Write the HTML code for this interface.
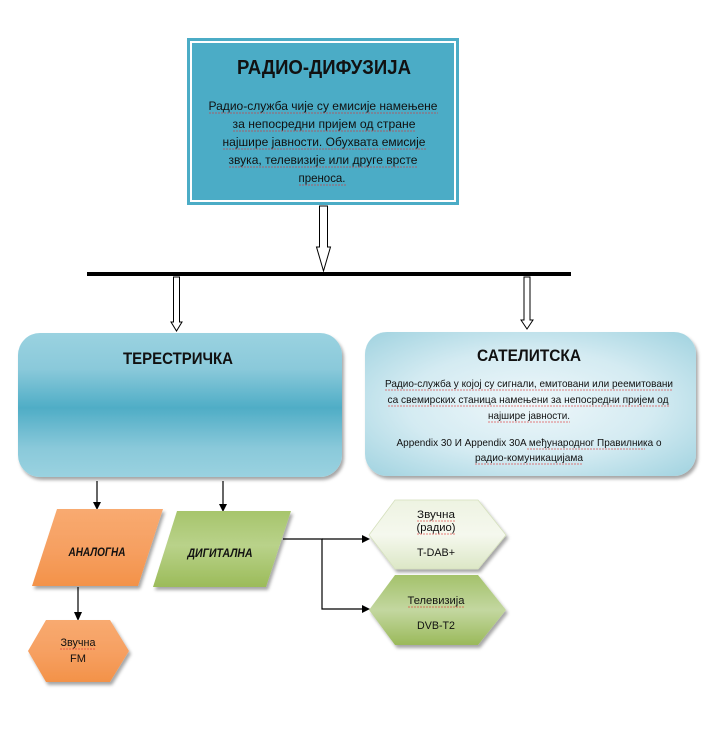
<!DOCTYPE html>
<html><head><meta charset="utf-8"><style>
html,body{margin:0;padding:0;background:#fff;}
svg{display:block;}
text{font-family:"Liberation Sans","DejaVu Sans",sans-serif;fill:#111;}
</style></head><body>
<svg width="708" height="737" viewBox="0 0 708 737" xmlns="http://www.w3.org/2000/svg">
<defs>
<filter id="sh" x="-10%" y="-10%" width="125%" height="130%">
<feDropShadow dx="2" dy="3" stdDeviation="1.5" flood-color="#000" flood-opacity="0.35"/>
</filter>
<linearGradient id="gTer" x1="0" y1="0" x2="0" y2="1">
<stop offset="0" stop-color="#9ad2e0"/>
<stop offset="0.25" stop-color="#8ac9da"/>
<stop offset="0.52" stop-color="#4fadc6"/>
<stop offset="0.8" stop-color="#8ac9da"/>
<stop offset="1" stop-color="#9ad2e0"/>
</linearGradient>
<radialGradient id="gSat" cx="0.5" cy="0.5" r="0.75">
<stop offset="0" stop-color="#eef7fa"/>
<stop offset="0.5" stop-color="#d4ebf2"/>
<stop offset="1" stop-color="#99cfdd"/>
</radialGradient>
<linearGradient id="gOr" x1="0" y1="0" x2="0" y2="1">
<stop offset="0" stop-color="#f8aa70"/>
<stop offset="0.5" stop-color="#f6a062"/>
<stop offset="1" stop-color="#f39249"/>
</linearGradient>
<linearGradient id="gGr" x1="0" y1="0" x2="0" y2="1">
<stop offset="0" stop-color="#a7c56c"/>
<stop offset="0.45" stop-color="#b9d28a"/>
<stop offset="1" stop-color="#9bbb59"/>
</linearGradient>
<linearGradient id="gLt" x1="0" y1="0" x2="0" y2="1">
<stop offset="0" stop-color="#eef3e2"/>
<stop offset="0.5" stop-color="#f5f8ee"/>
<stop offset="1" stop-color="#dce7c6"/>
</linearGradient>
<linearGradient id="gTv" x1="0" y1="0" x2="0" y2="1">
<stop offset="0" stop-color="#a4c26b"/>
<stop offset="0.5" stop-color="#c3d7a0"/>
<stop offset="1" stop-color="#9ab95a"/>
</linearGradient>
</defs>

<!-- Top box -->
<rect x="187" y="38" width="272" height="167" fill="#4bacc6"/>
<rect x="191" y="42" width="264" height="159" fill="none" stroke="#fff" stroke-width="2"/>
<text x="324" y="74" font-size="20" font-weight="bold" text-anchor="middle" textLength="174" lengthAdjust="spacingAndGlyphs">РАДИО-ДИФУЗИЈА</text>
<g font-size="12" text-anchor="middle">
<text x="323" y="110" textLength="229" lengthAdjust="spacingAndGlyphs">Радио-служба чије су емисије намењене</text>
<text x="324" y="128" textLength="183" lengthAdjust="spacingAndGlyphs">за непосредни пријем од стране</text>
<text x="324" y="146" textLength="203" lengthAdjust="spacingAndGlyphs">најшире јавности. Обухвата емисије</text>
<text x="323" y="164" textLength="189" lengthAdjust="spacingAndGlyphs">звука, телевизије или друге врсте</text>
<text x="322" y="182" textLength="47" lengthAdjust="spacingAndGlyphs">преноса.</text>
</g>

<!-- Hollow arrows -->
<polygon points="319.5,206 327.5,206 327.5,247 330.5,247 323.5,271 316.5,247 319.5,247" fill="#fff" stroke="#000" stroke-width="1"/>
<line x1="87" y1="274" x2="571" y2="274" stroke="#000" stroke-width="4"/>
<polygon points="173.5,277 179.5,277 179.5,322 182,322 176.5,331 171,322 173.5,322" fill="#fff" stroke="#000" stroke-width="1"/>
<polygon points="524,277 530,277 530,320 533,320 527,329 521,320 524,320" fill="#fff" stroke="#000" stroke-width="1"/>

<!-- Terrestrial -->
<rect x="18" y="333" width="324" height="144" rx="22" ry="22" fill="url(#gTer)" filter="url(#sh)"/>
<text x="178" y="364" font-size="17" font-weight="bold" text-anchor="middle" textLength="110" lengthAdjust="spacingAndGlyphs">ТЕРЕСТРИЧКА</text>

<!-- Satellite -->
<rect x="365" y="332" width="331" height="144" rx="22" ry="22" fill="url(#gSat)" filter="url(#sh)"/>
<text x="529" y="361" font-size="17" font-weight="bold" text-anchor="middle" textLength="104" lengthAdjust="spacingAndGlyphs">САТЕЛИТСКА</text>
<g font-size="10.5" text-anchor="middle">
<text x="529" y="387" textLength="288" lengthAdjust="spacingAndGlyphs">Радио-служба у којој су сигнали, емитовани или реемитовани</text>
<text x="528" y="403" textLength="281" lengthAdjust="spacingAndGlyphs">са свемирских станица  намењени за непосредни пријем од</text>
<text x="529" y="419" textLength="82" lengthAdjust="spacingAndGlyphs">најшире јавности.</text>
<text x="529" y="446" textLength="265" lengthAdjust="spacingAndGlyphs">Appendix 30 И Appendix 30A међународног Правилника о</text>
<text x="529" y="461" textLength="108" lengthAdjust="spacingAndGlyphs">радио-комуникацијама</text>
</g>

<!-- thin arrows from terrestrial -->
<g stroke="#000" stroke-width="1.2">
<line x1="97" y1="481" x2="97" y2="503"/>
<line x1="223" y1="481" x2="223" y2="505"/>
<line x1="78" y1="587" x2="78" y2="614"/>
<polyline points="283,539 322,539 322,609 364,609" fill="none"/>
<line x1="322" y1="539" x2="364" y2="539"/>
</g>
<g fill="#000">
<polygon points="93,502 101,502 97,510"/>
<polygon points="219,504 227,504 223,512"/>
<polygon points="74,612 82,612 78,621"/>
<polygon points="362,535 362,543 370,539"/>
<polygon points="362,605 362,613 370,609"/>
</g>

<!-- Analog -->
<polygon points="57,509 163,509 138,586 32,586" fill="url(#gOr)" filter="url(#sh)"/>
<text x="97" y="556" font-size="11.5" font-weight="bold" font-style="italic" text-anchor="middle" textLength="57" lengthAdjust="spacingAndGlyphs">АНАЛОГНА</text>

<!-- Digital -->
<polygon points="177,511 291,511 266,587 153,587" fill="url(#gGr)" filter="url(#sh)"/>
<text x="220" y="557" font-size="11.5" font-weight="bold" font-style="italic" text-anchor="middle" textLength="65" lengthAdjust="spacingAndGlyphs">ДИГИТАЛНА</text>

<!-- FM hexagon -->
<polygon points="46,620 110,620 129,651 110,682 46,682 28,651" fill="url(#gOr)" filter="url(#sh)"/>
<text x="78" y="646" font-size="11" text-anchor="middle" textLength="35" lengthAdjust="spacingAndGlyphs">Звучна</text>
<text x="78" y="662" font-size="11" text-anchor="middle" textLength="16" lengthAdjust="spacingAndGlyphs">FM</text>

<!-- T-DAB hexagon -->
<polygon points="395,500 478,500 506,535 478,569 395,569 369,535" fill="url(#gLt)" stroke="#d5e0bd" stroke-width="0.8" filter="url(#sh)"/>
<text x="436" y="518" font-size="11" text-anchor="middle" textLength="38" lengthAdjust="spacingAndGlyphs">Звучна</text>
<text x="436" y="531" font-size="11" text-anchor="middle" textLength="39" lengthAdjust="spacingAndGlyphs">(радио)</text>
<text x="436" y="556" font-size="11" text-anchor="middle" textLength="38" lengthAdjust="spacingAndGlyphs">T-DAB+</text>

<!-- TV hexagon -->
<polygon points="395,575 478,575 506,610 478,645 395,645 369,610" fill="url(#gTv)" filter="url(#sh)"/>
<text x="436" y="604" font-size="11" text-anchor="middle" textLength="57" lengthAdjust="spacingAndGlyphs">Телевизија</text>
<text x="436" y="629" font-size="11" text-anchor="middle" textLength="38" lengthAdjust="spacingAndGlyphs">DVB-T2</text>

<!-- spell-check squiggles -->
<g stroke="#e03030" stroke-width="0.8" fill="none" opacity="0.8" stroke-dasharray="2,1">
<line x1="209" y1="113" x2="438" y2="113"/>
<line x1="233" y1="131" x2="416" y2="131"/>
<line x1="223" y1="149" x2="426" y2="149"/>
<line x1="229" y1="167" x2="418" y2="167"/>
<line x1="299" y1="185" x2="346" y2="185"/>
<line x1="385" y1="390" x2="673" y2="390"/>
<line x1="388" y1="406" x2="669" y2="406"/>
<line x1="488" y1="422" x2="570" y2="422"/>
<line x1="527" y1="449" x2="645" y2="449"/>
<line x1="475" y1="464" x2="583" y2="464"/>
<line x1="60" y1="649" x2="95" y2="649"/>
<line x1="417" y1="521" x2="455" y2="521"/>
<line x1="417" y1="534" x2="456" y2="534"/>
<line x1="408" y1="607" x2="465" y2="607"/>
</g>
</svg>
</body></html>
